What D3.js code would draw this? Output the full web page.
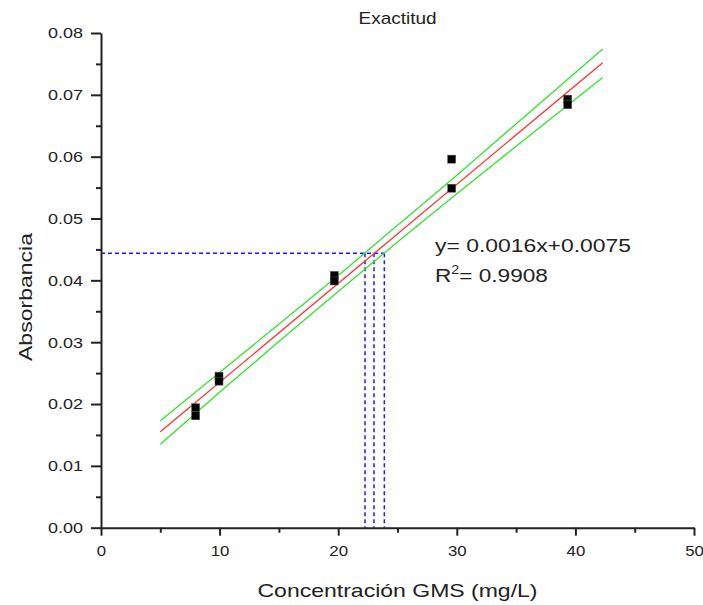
<!DOCTYPE html>
<html>
<head>
<meta charset="utf-8">
<script src="https://cdn.jsdelivr.net/npm/d3@7"></script>
<style>
  body { margin: 0; background: #fff; }
  text { font-family: "Liberation Sans", Arial, sans-serif; fill: #222; }
</style>
</head>
<body>
<div id="chart"></div>
<script>
// measured points (x = concentration, y = absorbance)
const pointsX = [7.98, 7.98, 9.95, 9.95, 19.67, 19.67, 29.57, 29.57, 39.35, 39.35];
const pointsY = [0.0194, 0.0181, 0.0245, 0.0237, 0.0408, 0.0399, 0.0596, 0.0549, 0.0693, 0.0684];

// fitted line y = 0.0016x + 0.0075 (end points)
const fitX = [5, 42.3];
const fitY = [0.0155, 0.0752];

// confidence band
const bandX = [5, 10, 15, 20, 25, 30, 35, 42.3];
const bandUpper = [0.0173, 0.0251, 0.0329, 0.0408, 0.0489, 0.0570, 0.0653, 0.0774];
const bandLower = [0.0135, 0.0219, 0.0301, 0.0382, 0.0462, 0.0540, 0.0617, 0.0728];

// blue guide lines
const guideY = 0.0444;
const guideX = [22.26, 23.02, 23.89];

const xTicks = [0, 10, 20, 30, 40, 50];
const xMinor = [5, 15, 25, 35, 45];
const yTicks = [0, 0.01, 0.02, 0.03, 0.04, 0.05, 0.06, 0.07, 0.08];
const yMinor = [0.005, 0.015, 0.025, 0.035, 0.045, 0.055, 0.065, 0.075];

const width = 703, height = 605;
const margin = { top: 33, right: 9, bottom: 77.3, left: 101 };

const svg = d3.select("#chart").append("svg")
    .attr("width", width)
    .attr("height", height);

const x = d3.scaleLinear().domain([0, 50]).range([margin.left, width - margin.right]);
const y = d3.scaleLinear().domain([0, 0.08]).range([height - margin.bottom, margin.top]);

// guide lines (behind everything)
svg.append("line")
    .attr("x1", x(0)).attr("x2", x(d3.max(guideX)))
    .attr("y1", y(guideY)).attr("y2", y(guideY))
    .attr("stroke", "#1a1aff").attr("stroke-width", 1.5)
    .attr("stroke-dasharray", "4,3");

svg.selectAll(".guide").data(guideX).enter().append("line")
    .attr("class", "guide")
    .attr("x1", d => x(d)).attr("x2", d => x(d))
    .attr("y1", y(guideY)).attr("y2", y(0))
    .attr("stroke", "#1a1aff").attr("stroke-width", 1.5)
    .attr("stroke-dasharray", "4,3");

// confidence band
const bandLine = d3.line().x(d => x(d[0])).y(d => y(d[1])).curve(d3.curveMonotoneX);
[bandUpper, bandLower].forEach(arr => {
    svg.append("path")
        .datum(bandX.map((v, i) => [v, arr[i]]))
        .attr("d", bandLine)
        .attr("fill", "none")
        .attr("stroke", "#2ee62e")
        .attr("stroke-width", 1.3);
});

// fit line
svg.append("path")
    .datum(fitX.map((v, i) => [v, fitY[i]]))
    .attr("d", bandLine)
    .attr("fill", "none")
    .attr("stroke", "#ff3030")
    .attr("stroke-width", 1.3);

// data squares
svg.selectAll(".pt").data(pointsX.map((v, i) => [v, pointsY[i]])).enter().append("rect")
    .attr("class", "pt")
    .attr("x", d => x(d[0]) - 4)
    .attr("y", d => y(d[1]) - 4)
    .attr("width", 8).attr("height", 8)
    .attr("fill", "#000")
    .attr("stroke", "#555").attr("stroke-width", 0.5);

// axes
svg.append("g")
    .attr("class", "x-axis")
    .attr("transform", `translate(0, ${y(0)})`)
    .call(d3.axisBottom(x).tickValues(xTicks).tickFormat(d3.format("d")).tickSize(8).tickSizeOuter(0).tickPadding(10));
svg.append("g")
    .attr("transform", `translate(0, ${y(0)})`)
    .call(d3.axisBottom(x).tickValues(xMinor).tickFormat("").tickSize(5).tickSizeOuter(0))
    .select(".domain").remove();

svg.append("g")
    .attr("class", "y-axis")
    .attr("transform", `translate(${x(0)}, 0)`)
    .call(d3.axisLeft(y).tickValues(yTicks).tickFormat(d3.format(".2f")).tickSize(10).tickSizeOuter(0).tickPadding(8));
svg.append("g")
    .attr("transform", `translate(${x(0)}, 0)`)
    .call(d3.axisLeft(y).tickValues(yMinor).tickFormat("").tickSize(5).tickSizeOuter(0))
    .select(".domain").remove();

svg.selectAll(".domain, .tick line").attr("stroke", "#222").attr("stroke-width", 2);
svg.selectAll(".tick text")
    .style("font-family", "'Liberation Sans', Arial, sans-serif")
    .style("font-size", "15px")
    .attr("fill", "#222");
svg.selectAll(".y-axis .tick text")
    .attr("textLength", 35)
    .attr("lengthAdjust", "spacingAndGlyphs");
svg.selectAll(".x-axis .tick text")
    .attr("transform", function () {
        return "scale(1.12,1)";
    })
    .attr("x", function () { return 0; });

// titles
svg.append("text")
    .attr("x", 397.5).attr("y", 24)
    .attr("text-anchor", "middle")
    .attr("font-size", 17)
    .attr("textLength", 78)
    .attr("lengthAdjust", "spacingAndGlyphs")
    .text("Exactitud");

svg.append("text")
    .attr("x", 397.5).attr("y", 597)
    .attr("text-anchor", "middle")
    .attr("font-size", 19)
    .attr("textLength", 280)
    .attr("lengthAdjust", "spacingAndGlyphs")
    .text("Concentración GMS (mg/L)");

svg.append("text")
    .attr("transform", "translate(32, 297) rotate(-90)")
    .attr("text-anchor", "middle")
    .attr("font-size", 19)
    .attr("textLength", 128)
    .attr("lengthAdjust", "spacingAndGlyphs")
    .text("Absorbancia");

// equation
svg.append("text")
    .attr("x", 435).attr("y", 251.7)
    .attr("font-size", 19)
    .attr("textLength", 196)
    .attr("lengthAdjust", "spacingAndGlyphs")
    .text("y= 0.0016x+0.0075");

const r2 = svg.append("text")
    .attr("transform", "translate(435, 281.7) scale(1.19, 1)")
    .attr("font-size", 19);
r2.append("tspan").text("R");
r2.append("tspan").attr("dy", -8).attr("font-size", 12).text("2");
r2.append("tspan").attr("dy", 8).text("= 0.9908");
</script>
</body>
</html>
